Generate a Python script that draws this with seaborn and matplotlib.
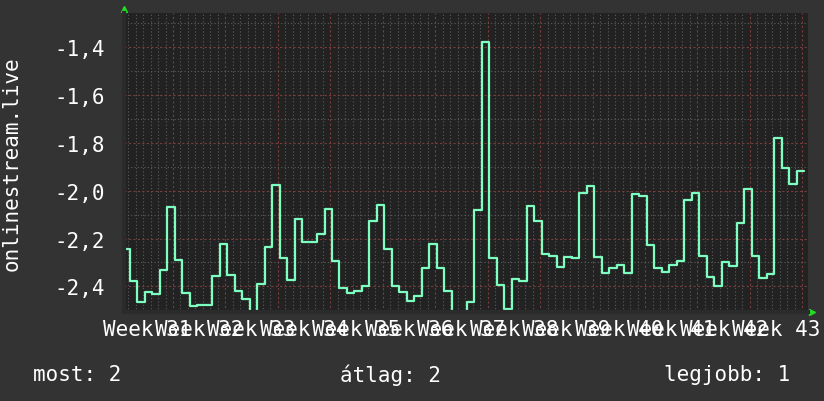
import numpy as np
import pandas as pd
import matplotlib
matplotlib.use("Agg")
import matplotlib.pyplot as plt
import seaborn as sns
from matplotlib.ticker import FixedLocator, MultipleLocator, FuncFormatter

# daily values (one step per day)
values = [-2.244, -2.377, -2.467, -2.425, -2.432, -2.33, -2.07, -2.29, -2.428, -2.484,
          -2.478, -2.478, -2.356, -2.223, -2.353, -2.42, -2.453, -2.51, -2.39, -2.234,
          -1.976, -2.28, -2.372, -2.118, -2.213, -2.213, -2.181, -2.077, -2.293, -2.406,
          -2.428, -2.42, -2.397, -2.125, -2.059, -2.244, -2.397, -2.425, -2.461, -2.439,
          -2.325, -2.223, -2.322, -2.42, -2.516, -2.51, -2.467, -2.079, -1.377, -2.28,
          -2.395, -2.495, -2.37, -2.377, -2.063, -2.125, -2.265, -2.272, -2.318, -2.276,
          -2.283, -2.011, -1.979, -2.276, -2.346, -2.325, -2.311, -2.346, -2.014, -2.021,
          -2.227, -2.322, -2.340, -2.309, -2.294, -2.04, -2.008, -2.272, -2.36, -2.397,
          -2.298, -2.314, -2.135, -1.992, -2.272, -2.365, -2.347, -1.778, -1.905, -1.971,
          -1.918]
week_numbers = list(range(31, 44))
week_labels = [f"Week {w}" for w in week_numbers]
legend_items = ["most: 2", "átlag: 2", "legjobb: 1"]
series_name = "onlinestream.live"

# days counted from the start of week 31; samples step at ~05:15 each day
day_offset = 0.22
days = day_offset + np.arange(len(values))
df = pd.DataFrame({"day": np.append(days, days[-1] + 1),
                   "value": values + [values[-1]]})

sns.set_theme(style="dark", rc={
    "figure.facecolor": "#333333",
    "axes.facecolor": "#222222",
    "text.color": "white",
    "xtick.color": "white",
    "ytick.color": "white",
})
plt.rcParams["font.family"] = ["DejaVu Sans Mono", "DejaVu Sans"]

fig = plt.figure(figsize=(8.24, 4.02), dpi=100)
ax = fig.add_axes([124 / 824, 1 - 313 / 402, 684 / 824, 299 / 402])

sns.lineplot(data=df, x="day", y="value", ax=ax, color="#7dffbf",
             linewidth=1.6, drawstyle="steps-post")

ax.set_xlim(0.46, 91.75)
ax.set_ylim(-2.5075, -1.2565)

# grid: weeks / 0.2 major (red dashed), days / 0.1 minor (gray dotted)
ax.xaxis.set_major_locator(FixedLocator(np.arange(7, 92, 7)))
ax.xaxis.set_minor_locator(MultipleLocator(1))
ax.yaxis.set_major_locator(MultipleLocator(0.2))
ax.yaxis.set_minor_locator(MultipleLocator(0.1))
ax.grid(which="minor", color="#5c5c5c", linestyle=(0, (1, 2)), linewidth=0.8)
ax.grid(which="major", color="#7a3c3c", linestyle=(0, (2, 2)), linewidth=0.8)
ax.set_axisbelow(True)

ax.yaxis.set_major_formatter(FuncFormatter(lambda v, p: f"{v:.1f}".replace(".", ",")))
ax.tick_params(axis="y", which="major", labelsize=15, length=0, pad=14)
ax.tick_params(axis="x", which="both", labelbottom=False, length=0)
ax.tick_params(axis="y", which="minor", length=0)

for sp in ax.spines.values():
    sp.set_visible(False)
for side in ("left", "bottom"):
    ax.spines[side].set_visible(True)
    ax.spines[side].set_color("#2b2b2b")
    ax.spines[side].set_linewidth(3)

# week labels centred in each week (they overlap, as in the original)
for i, lab in enumerate(week_labels):
    ax.text(7 * i + 3.5, -0.025, lab, transform=ax.get_xaxis_transform(),
            ha="center", va="top", fontsize=15, color="white", clip_on=False)

ax.set_xlabel("")
ax.set_ylabel(series_name, fontsize=15, color="white")
ax.yaxis.set_label_coords(-0.149, 0.5)

# axis arrows
ax.plot([0], [1.012], marker="^", color="#22dd22", markersize=5,
        transform=ax.transAxes, clip_on=False)
ax.plot([1.006], [0], marker=">", color="#22dd22", markersize=5,
        transform=ax.transAxes, clip_on=False)

# legend line
fig.text(33 / 824, 1 - 375 / 402, legend_items[0], fontsize=15, va="center", ha="left")
fig.text(340 / 824, 1 - 375 / 402, legend_items[1], fontsize=15, va="center", ha="left")
fig.text(790 / 824, 1 - 375 / 402, legend_items[2], fontsize=15, va="center", ha="right")

fig.savefig("out.png", dpi=100, facecolor=fig.get_facecolor())
